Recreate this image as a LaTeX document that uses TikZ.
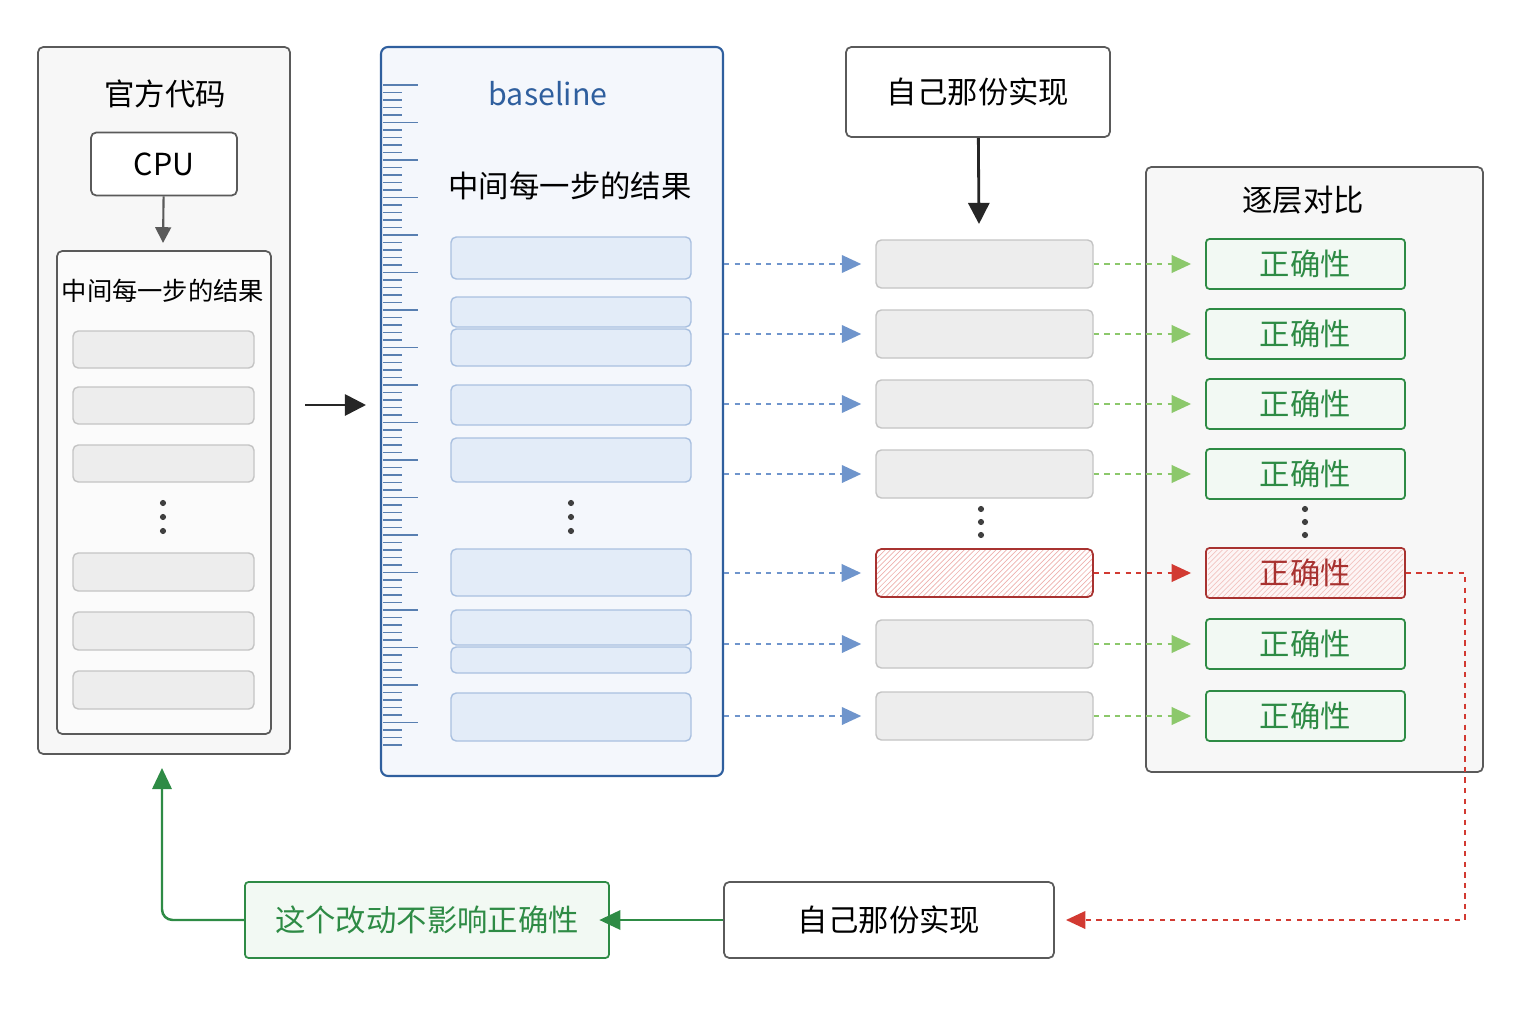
\documentclass[tikz,border=0pt]{standalone}
\usepackage{fontspec}
\setmainfont{Noto Sans CJK SC}
\usepackage{tikz}
\usetikzlibrary{positioning, arrows.meta, patterns}
\usepackage{xcolor}
\definecolor{panelgray}{HTML}{F7F7F7}
\definecolor{bordergray}{HTML}{5A5A5A}
\definecolor{bargray}{HTML}{EDEDED}
\definecolor{barline}{HTML}{C4C4C4}
\definecolor{bluepanel}{HTML}{F4F7FC}
\definecolor{blueborder}{HTML}{2F5F9E}
\definecolor{bluebar}{HTML}{E3ECF8}
\definecolor{bluebarline}{HTML}{A9C0E0}
\definecolor{bluedash}{HTML}{6F95CC}
\definecolor{okgreen}{HTML}{2E8B45}
\definecolor{okfill}{HTML}{F2F9F3}
\definecolor{lightgreen}{HTML}{8CC86B}
\definecolor{errred}{HTML}{D23A32}
\definecolor{errdark}{HTML}{A83230}

\begin{document}
\begin{tikzpicture}[x=0.02cm, y=-0.02cm,
  panel/.style={draw=bordergray, fill=panelgray, rounded corners=3pt, line width=1pt},
  box/.style={draw=bordergray, fill=white, rounded corners=3pt, line width=1pt},
  graybar/.style={draw=barline, fill=bargray, rounded corners=3pt, line width=0.8pt},
  bluebar/.style={draw=bluebarline, fill=bluebar, rounded corners=3pt, line width=0.8pt},
  okbox/.style={draw=okgreen, fill=okfill, rounded corners=2pt, line width=1pt, text=okgreen},
  bluearrow/.style={draw=bluedash, dashed, line width=1pt, -{Triangle[length=11pt,width=10pt]}},
  greenarrow/.style={draw=lightgreen, dashed, line width=1pt, -{Triangle[length=11pt,width=10pt]}},
  redarrow/.style={draw=errred, dashed, line width=1pt, -{Triangle[length=11pt,width=10pt]}},
  blackarrow/.style={draw=black!85, line width=1.6pt, -{Triangle[length=12pt,width=12pt]}},
  dot/.style={circle, fill=black!75, inner sep=0pt, minimum size=3.5pt}]
\useasboundingbox (0,0) rectangle (1536,1024);

% left panel
\draw[panel] (38,47) rectangle (290,754);
\node[font=\LARGE] (offtitle) at (165,94) {官方代码};
\node[box, minimum width=146*0.02cm, minimum height=63*0.02cm, font=\LARGE] (cpu) at (164,164) {CPU};
\draw[panel, fill=white!50!panelgray] (57,251) rectangle (271,734);
\coordinate (cpuend) at (163,243);
\draw[draw=bordergray, line width=1.2pt, -{Triangle[length=9pt,width=9pt]}] (cpu) -- (cpuend);
\node[font=\Large] (offsteps) at (163,291) {中间每一步的结果};
\foreach \ya/\yb in {331/368, 387/424, 445/482, 553/591, 612/650, 671/709}
  \draw[graybar] (73,\ya) rectangle (254,\yb);
\foreach \y in {503,517,531} \node[dot] at (163,\y) {};

\coordinate (mida) at (305,405);
\coordinate (midb) at (366,405);
\draw[blackarrow] (mida) -- (midb);

% baseline panel
\draw[draw=blueborder, fill=bluepanel, rounded corners=4pt, line width=1.2pt] (381,47) rectangle (723,776);
\foreach \i in {0,...,88} {
  \pgfmathsetmacro{\ty}{85+7.5*\i}
  \pgfmathsetmacro{\tx}{mod(\i,5)==0 ? 418 : 402}
  \draw[blueborder!80, line width=0.6pt] (383,\ty) -- (\tx,\ty);
}
\node[font=\LARGE, text=blueborder] (basetitle) at (548,94) {baseline};
\node[font=\LARGE] (basesteps) at (570,186) {中间每一步的结果};
\foreach \ya/\yb in {237/279, 297/327, 329/366, 385/425, 438/482, 549/596, 610/645, 647/673, 693/741}
  \draw[bluebar] (451,\ya) rectangle (691,\yb);
\foreach \y in {503,517,531} \node[dot] at (571,\y) {};

% own implementation
\node[box, minimum width=264*0.02cm, minimum height=90*0.02cm, font=\LARGE] (own) at (978,92) {自己那份实现};
\coordinate (ownend) at (979,224);
\draw[blackarrow] (own) -- (ownend);

% compare panel
\draw[panel] (1146,167) rectangle (1483,772);
\node[font=\LARGE] (cmptitle) at (1303,200) {逐层对比};

\foreach \n/\y in {1/264, 2/334, 3/404, 4/474, 6/644, 7/716} {
  \node[graybar, minimum width=217*0.02cm, minimum height=48*0.02cm] (layer\n) at (984.5,\y) {};
  \node[okbox, minimum width=199*0.02cm, minimum height=50*0.02cm, font=\LARGE] (ok\n) at (1305.5,\y) {正确性};
  \coordinate (bs\n) at (724,\y);
  \draw[bluearrow] (bs\n) -- ([xshift=-8pt]layer\n.west);
  \draw[greenarrow] (layer\n) -- ([xshift=-8pt]ok\n.west);
}
\node[draw=errdark, fill=white, pattern=north east lines, pattern color=errred!40, rounded corners=3pt, line width=1pt,
  minimum width=217*0.02cm, minimum height=48*0.02cm] (layer5) at (984.5,573) {};
\node[draw=errdark, fill=errred!5, rounded corners=2pt, line width=1pt, minimum width=199*0.02cm, minimum height=50*0.02cm] (ok5) at (1305.5,573) {};
\fill[pattern=north east lines, pattern color=errred!30] (1208,550) rectangle (1403,596);
\node[font=\LARGE, text=errdark] (ok5text) at (1305.5,573) {正确性};
\coordinate (bs5) at (724,573);
\draw[bluearrow] (bs5) -- ([xshift=-8pt]layer5.west);
\draw[redarrow] (layer5) -- ([xshift=-8pt]ok5.west);
\foreach \y in {509,522,535} {
  \node[dot] at (981,\y) {};
  \node[dot] at (1305,\y) {};
}

% feedback loop
\node[box, minimum width=330*0.02cm, minimum height=76*0.02cm, font=\LARGE] (ownb) at (889,920) {自己那份实现};
\node[okbox, minimum width=364*0.02cm, minimum height=76*0.02cm, font=\LARGE] (result) at (427,920) {这个改动不影响正确性};
\coordinate (redend) at (1066,920);
\draw[redarrow] (ok5.east) -- (1465,573) -- (1465,920) -- (redend);
\draw[draw=okgreen, line width=1.4pt, -{Triangle[length=12pt,width=11pt]}] (ownb) -- ([xshift=-6pt]result.east);
\coordinate (backend) at (162,768);
\draw[draw=okgreen, line width=1.4pt, rounded corners=6pt, -{Triangle[length=12pt,width=11pt]}] (result.west) -- (162,920) -- (backend);
\end{tikzpicture}
\end{document}
